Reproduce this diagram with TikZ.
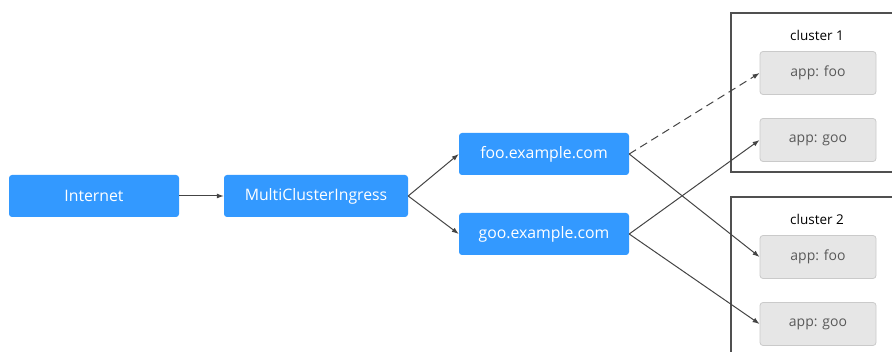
\documentclass[tikz,border=0pt]{standalone}
\usepackage{fontspec}
\setmainfont{Open Sans}
\usetikzlibrary{arrows.meta, positioning, calc}
\definecolor{hostFill}{HTML}{3399FF}
\definecolor{appFill}{HTML}{E6E6E6}
\definecolor{appLine}{HTML}{CACACA}
\definecolor{appText}{HTML}{595959}
\definecolor{clusLine}{HTML}{505050}
\definecolor{arrowGray}{HTML}{444444}

\begin{document}
\begin{tikzpicture}[
  x=1pt, y=-1pt,
  box/.style     ={rounded corners=3pt, align=center, inner sep=0pt},
  host/.style    ={box, fill=hostFill, text=white, font=\fontsize{15.8}{18}\selectfont,
                   minimum width=170pt, minimum height=42pt},
  app/.style     ={box, fill=appFill, draw=appLine, line width=0.8pt, text=appText,
                   font=\fontsize{14}{16}\selectfont,
                   minimum width=116pt, minimum height=43pt},
  clus/.style    ={draw=clusLine, line width=1.2pt},
  clabel/.style  ={font=\fontsize{13.5}{15}\selectfont, text=black},
  flow/.style    ={-{Latex[length=7pt, width=5pt]}, draw=arrowGray, line width=1pt},
]
\useasboundingbox (0,0) rectangle (892,352);

% ----- Clusters -----
\begin{scope}
  \clip (0,0) rectangle (892,352);
  \draw[clus] (731,13) rectangle (905,172);
  \draw[clus] (731,197) rectangle (905,365);
\end{scope}
\node[clabel] (C1LBL) at (817,35) {cluster 1};
\node[clabel] (C2LBL) at (817,219) {cluster 2};

% ----- Front -----
\node[host] (NET) at (94,196) {Internet};
\node[host, minimum width=184pt] (MCI) at (316,196) {MultiClusterIngress};
\node[host] (FOO) at (544,154) {foo.example.com};
\node[host] (GOO) at (544,234) {goo.example.com};

% ----- Apps -----
\node[app] (FOO1) at (818,73)  {app: foo};
\node[app] (GOO1) at (818,140) {app: goo};
\node[app] (FOO2) at (818,257) {app: foo};
\node[app] (GOO2) at (818,324) {app: goo};

% ----- Arrows -----
\draw[flow] (NET.east) -- (MCI.west);
\draw[flow] (MCI.east) -- (FOO.west);
\draw[flow] (MCI.east) -- (GOO.west);
\draw[flow, dashed, dash pattern=on 8pt off 5pt] (FOO.east) -- (FOO1.west);
\draw[flow] (FOO.east) -- (FOO2.west);
\draw[flow] (GOO.east) -- (GOO1.west);
\draw[flow] (GOO.east) -- (GOO2.west);

\end{tikzpicture}
\end{document}
